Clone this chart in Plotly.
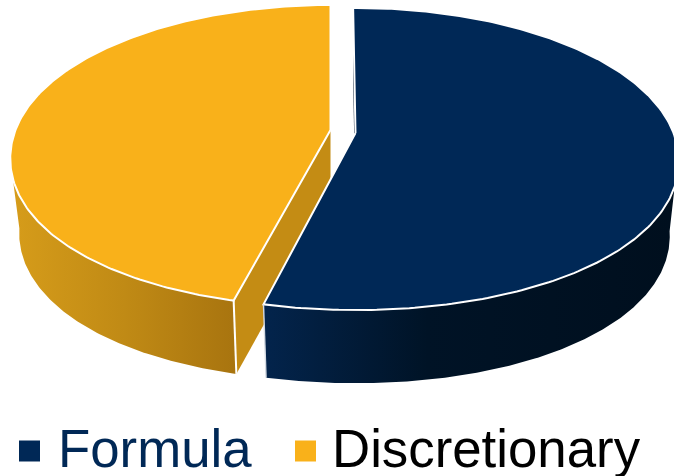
import numpy as np
import plotly.graph_objects as go

categories = ["Formula", "Discretionary"]
values = [54, 46]
top_colors = ["#002856", "#f9b11a"]
label_colors = ["#002856", "#000000"]

# perspective-disc geometry (pixels)
K, P = 146.6, 0.172
SQUARE = 0.012
DEPTH = 75.0
BOTTOM_X, BOTTOM_Y = 0.972, 0.99
W, H = 674, 476

navy_span = 360.0 * values[0] / sum(values)
NAVY_START = -0.5
navy_end = NAVY_START + navy_span
yellow_start = navy_span + 0.4
yellow_end = 360.0
APEX = {"Formula": (355.5, 133.0), "Discretionary": (330.5, 130.0)}
WIDTH = {"Formula": 318.0, "Discretionary": 315.0}


def rim(name, deg, bottom=False):
    apex, a = APEX[name], WIDTH[name]
    t = np.radians(deg)
    r = 1 + SQUARE * np.sin(2 * t) ** 2 * (np.cos(t) < 0)
    u, v = r * np.sin(t), r * np.cos(t)
    d = 1 + P * v
    sx = BOTTOM_X if bottom else 1.0
    sy = BOTTOM_Y if bottom else 1.0
    x = apex[0] + a * sx * u / d
    y = apex[1] + (DEPTH if bottom else 0.0) - K * sy * v / d
    return x, y


def poly(fig, xs, ys, color=None, gradient=None):
    kw = dict(fillcolor=color) if gradient is None else dict(
        fillgradient=dict(type="horizontal", colorscale=gradient))
    fig.add_trace(go.Scatter(x=list(xs) + [xs[0]], y=list(ys) + [ys[0]], mode="lines",
                             fill="toself", line=dict(width=0), hoverinfo="skip",
                             showlegend=False, **kw))


def line(fig, xs, ys, width=2.0, color="white"):
    fig.add_trace(go.Scatter(x=xs, y=ys, mode="lines", line=dict(color=color, width=width),
                             hoverinfo="skip", showlegend=False))


fig = go.Figure()

# Discretionary slice (behind)
name = "Discretionary"
ap = APEX[name]
tx, ty = rim(name, np.linspace(yellow_start, 252, 120))
bx, by = rim(name, np.linspace(yellow_start, 261, 120), True)
poly(fig, np.r_[tx, bx[::-1]], np.r_[ty, by[::-1]],
     gradient=[[0, "#d69c1a"], [0.5, "#c08a15"], [1, "#a8740f"]])
sx, sy = rim(name, yellow_start)
ex, ey = rim(name, yellow_start, True)
poly(fig, [ap[0], ap[0], ex, sx], [ap[1], ap[1] + DEPTH, ey, sy], color="#c48c14")
tx, ty = rim(name, np.linspace(yellow_start, yellow_end, 240))
poly(fig, np.r_[ap[0], tx], np.r_[ap[1], ty], color=top_colors[1])
line(fig, np.r_[ap[0], tx, ap[0]], np.r_[ap[1], ty, ap[1]])
line(fig, [sx, ex], [sy, ey], 2.0)

# Formula slice (front)
name = "Formula"
ap = APEX[name]
sx0, sy0 = rim(name, NAVY_START)
ex0, ey0 = rim(name, NAVY_START, True)
poly(fig, [sx0, ap[0], ap[0], ex0], [sy0, ap[1], ap[1] + DEPTH, ey0], color="#0a1c33")
tx, ty = rim(name, np.linspace(110, navy_end, 240))
bx, by = rim(name, np.linspace(99, navy_end, 240), True)
poly(fig, np.r_[tx, bx[::-1]], np.r_[ty, by[::-1]],
     gradient=[[0, "#03244c"], [0.4, "#001326"], [1, "#000f1e"]])
tx, ty = rim(name, np.linspace(NAVY_START, navy_end, 240))
poly(fig, np.r_[ap[0], tx], np.r_[ap[1], ty], color=top_colors[0])
line(fig, np.r_[ap[0], tx, ap[0]], np.r_[ap[1], ty, ap[1]])
sx, sy = rim(name, navy_end)
ex, ey = rim(name, navy_end, True)
line(fig, [sx, ex], [sy, ey], 1.4, "#d5dbe3")

# Legend
legend_x = [29.5, 305.5]
legend_y = [451, 451]
text_x = [57, 331]
for i, label in enumerate(categories):
    fig.add_trace(go.Scatter(x=[legend_x[i]], y=[legend_y[i]], mode="markers",
                             marker=dict(symbol="square", size=21, color=top_colors[i]),
                             hoverinfo="skip", showlegend=False))
    fig.add_annotation(x=text_x[i], y=448.5, text=label, showarrow=False, xanchor="left",
                       yanchor="middle", xshift=-1,
                       font=dict(family="Liberation Sans", size=52.8, color=label_colors[i]))

fig.update_layout(width=W, height=H, margin=dict(l=0, r=0, t=0, b=0),
                  paper_bgcolor="white", plot_bgcolor="white", showlegend=False,
                  xaxis=dict(range=[0, W], visible=False, fixedrange=True),
                  yaxis=dict(range=[H, 0], visible=False, fixedrange=True))
fig.write_html("out.html", config={"displayModeBar": False},
               post_script="document.body.style.margin='0';document.documentElement.style.overflow='hidden';")
